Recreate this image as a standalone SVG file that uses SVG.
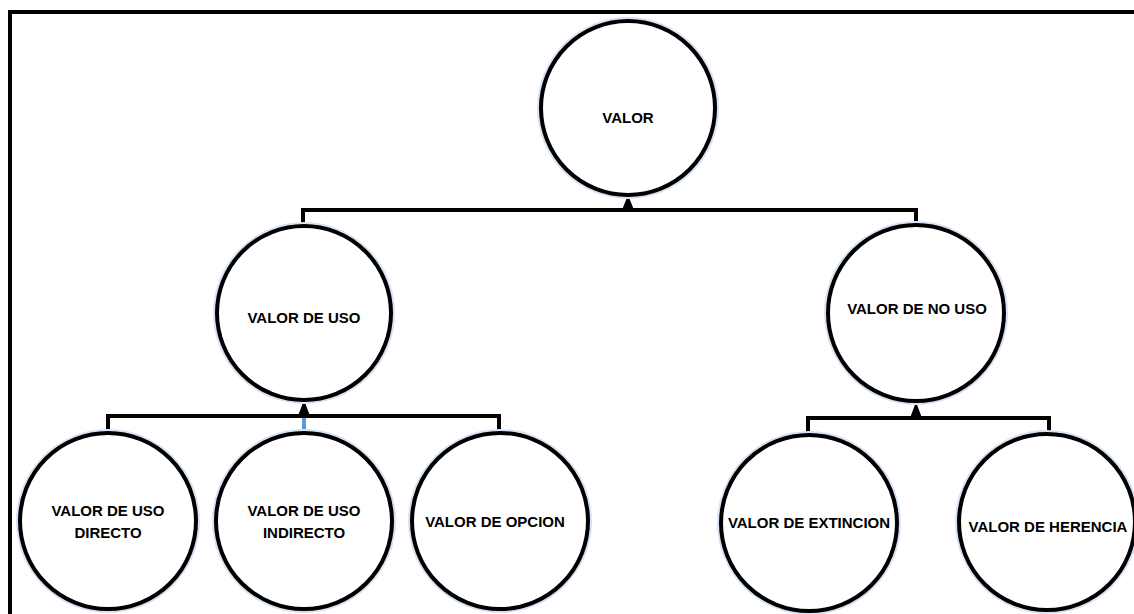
<svg xmlns="http://www.w3.org/2000/svg" width="1134" height="614" viewBox="0 0 1134 614">
<defs>
<style>
.node{fill:#ffffff;stroke:#000000;stroke-width:4}
.glow{fill:none;stroke:#d6e3f3;stroke-width:8}
.lbl{font-family:"Liberation Sans",Arial,sans-serif;font-weight:bold;font-size:15px;fill:#000000;text-anchor:middle}
.wire{fill:none;stroke:#000000;stroke-width:4;stroke-linejoin:miter}
.arrow{fill:#000000}
</style>
</defs>
<rect x="0" y="0" width="1134" height="614" fill="#ffffff"/>
<path d="M10,614 V12 H1134" fill="none" stroke="#000000" stroke-width="4"/>
<g id="connectors">
<path class="wire" d="M303,226 V210 H916 V225"/>
<polygon class="arrow" points="622,210 634,210 628,195"/>
<path class="wire" d="M108,434 V416 H499 V434"/>
<line x1="304" y1="418" x2="304" y2="434" stroke="#5b9bd5" stroke-width="4"/>
<polygon class="arrow" points="298,416 310,416 304,400"/>
<path class="wire" d="M808,436 V418 H1049 V435"/>
<polygon class="arrow" points="910,418 922,418 916,402"/>
</g>
<g id="n-valor">
<circle class="glow" cx="628" cy="108" r="87"/>
<circle class="node" cx="628" cy="108" r="87"/>
<text class="lbl" x="628" y="123">VALOR</text>
</g>
<g id="n-uso">
<circle class="glow" cx="304" cy="313" r="87"/>
<circle class="node" cx="304" cy="313" r="87"/>
<text class="lbl" x="304" y="323">VALOR DE USO</text>
</g>
<g id="n-nouso">
<circle class="glow" cx="916" cy="313" r="88"/>
<circle class="node" cx="916" cy="313" r="88"/>
<text class="lbl" x="917" y="314">VALOR DE NO USO</text>
</g>
<g id="n-directo">
<circle class="glow" cx="108" cy="521" r="88"/>
<circle class="node" cx="108" cy="521" r="88"/>
<text class="lbl" x="108" y="516">VALOR DE USO</text>
<text class="lbl" x="108" y="538">DIRECTO</text>
</g>
<g id="n-indirecto">
<circle class="glow" cx="304" cy="521" r="88"/>
<circle class="node" cx="304" cy="521" r="88"/>
<text class="lbl" x="304" y="516">VALOR DE USO</text>
<text class="lbl" x="304" y="538">INDIRECTO</text>
</g>
<g id="n-opcion">
<circle class="glow" cx="500" cy="521" r="88"/>
<circle class="node" cx="500" cy="521" r="88"/>
<text class="lbl" x="495" y="527">VALOR DE OPCION</text>
</g>
<g id="n-extincion">
<circle class="glow" cx="809" cy="523" r="88"/>
<circle class="node" cx="809" cy="523" r="88"/>
<text class="lbl" x="809" y="528">VALOR DE EXTINCION</text>
</g>
<g id="n-herencia">
<circle class="glow" cx="1047" cy="522" r="88"/>
<circle class="node" cx="1047" cy="522" r="88"/>
<text class="lbl" x="1048" y="532">VALOR DE HERENCIA</text>
</g>
</svg>
